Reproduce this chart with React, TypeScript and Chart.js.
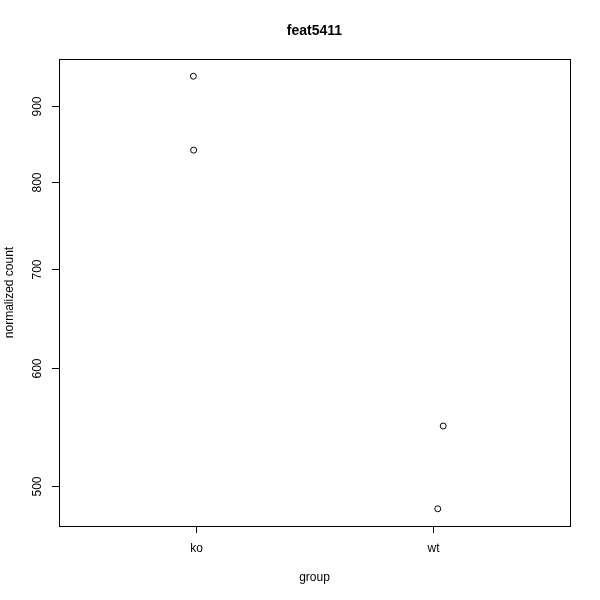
import React, { useEffect, useRef } from "react";
import { Chart, registerables } from "chart.js";

Chart.register(...registerables);

const groups = ["ko", "wt"];
const groupPositions = [1, 2];
const jitteredX = [0.988, 0.989, 2.044, 2.021];
const counts = [943, 841, 548.5, 482.5];
const yTicks = [500, 600, 700, 800, 900];
const titleText = "feat5411";
const xTitle = "group";
const yTitle = "normalized count";

const FONT = "'Liberation Sans', Arial, Helvetica, sans-serif";

const rPlot = {
  id: "rPlot",
  afterDraw(chart: any) {
    const { ctx, chartArea } = chart;
    const xs = chart.scales.x;
    const ys = chart.scales.y;
    const { left, right, top, bottom } = chartArea;
    ctx.save();
    ctx.strokeStyle = "#000";
    ctx.lineWidth = 1;
    ctx.strokeRect(Math.round(left) + 0.5, Math.round(top) + 0.5, Math.round(right - left), Math.round(bottom - top));
    ctx.fillStyle = "#000";
    ctx.font = `12px ${FONT}`;
    ctx.textAlign = "center";
    ctx.textBaseline = "middle";
    groupPositions.forEach((p, i) => {
      const x = Math.round(xs.getPixelForValue(p)) + 0.5;
      ctx.beginPath();
      ctx.moveTo(x, bottom);
      ctx.lineTo(x, bottom + 7);
      ctx.stroke();
      ctx.fillText(groups[i], x, bottom + 23);
    });
    yTicks.forEach((v) => {
      const y = Math.round(ys.getPixelForValue(v)) + 0.5;
      ctx.beginPath();
      ctx.moveTo(left, y);
      ctx.lineTo(left - 7, y);
      ctx.stroke();
      ctx.save();
      ctx.translate(left - 21, y);
      ctx.rotate(-Math.PI / 2);
      ctx.fillText(String(v), 0, 0);
      ctx.restore();
    });
    ctx.fillText(xTitle, (left + right) / 2, 578);
    ctx.save();
    ctx.translate(10, (top + bottom) / 2);
    ctx.rotate(-Math.PI / 2);
    ctx.fillText(yTitle, 0, 0);
    ctx.restore();
    ctx.font = `bold 14px ${FONT}`;
    ctx.fillText(titleText, (left + right) / 2, 31);
    ctx.restore();
  },
};

export default function App() {
  const ref = useRef<HTMLCanvasElement>(null);
  useEffect(() => {
    document.body.style.margin = "0";
    const chart = new Chart(ref.current!, {
      type: "scatter",
      data: {
        datasets: [
          {
            data: jitteredX.map((x, i) => ({ x, y: counts[i] })),
            pointRadius: 3,
            pointBorderColor: "#000",
            pointBackgroundColor: "rgba(0,0,0,0)",
            pointBorderWidth: 1,
          },
        ],
      },
      options: {
        animation: false,
        responsive: false,
        layout: { padding: { left: 59, right: 30, top: 59, bottom: 74 } },
        plugins: { legend: { display: false }, tooltip: { enabled: false } },
        scales: {
          x: { type: "linear", min: 0.42, max: 2.58, display: false },
          y: { type: "logarithmic", min: 469.8, max: 968.5, display: false },
        },
      },
      plugins: [rPlot],
    });
    return () => chart.destroy();
  }, []);
  return <canvas ref={ref} width={600} height={600} style={{ display: "block" }} />;
}
